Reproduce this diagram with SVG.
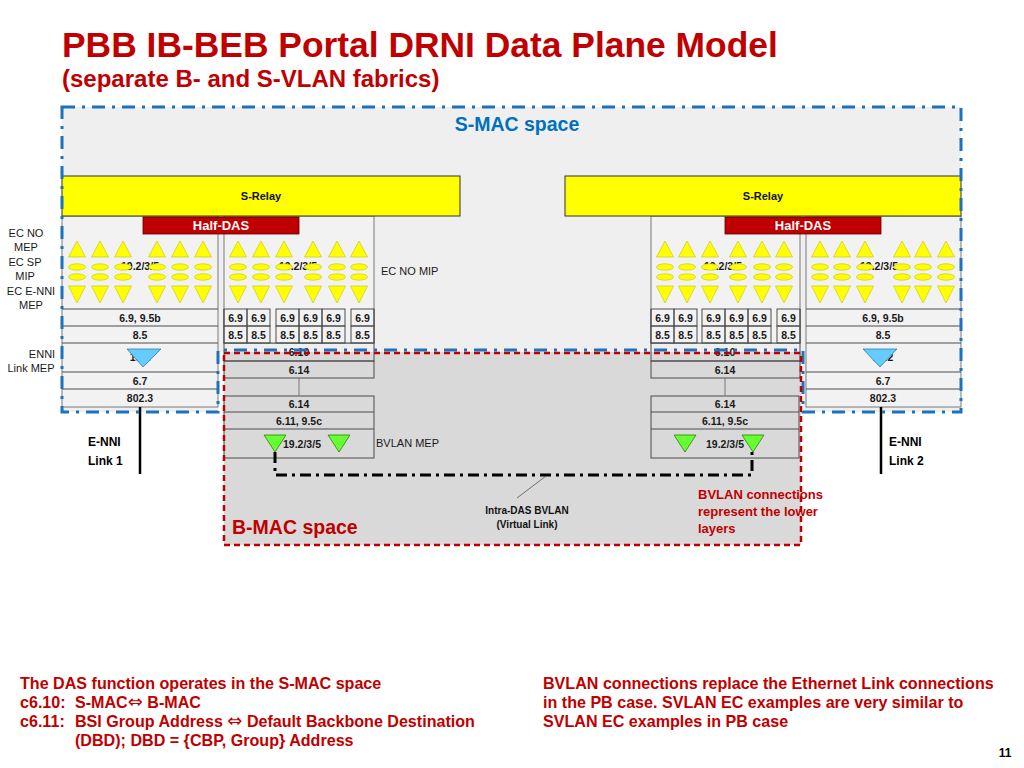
<svg xmlns="http://www.w3.org/2000/svg" width="1024" height="768" viewBox="0 0 1024 768">
<defs>
<style>
text{font-family:"Liberation Sans",Arial,Helvetica,sans-serif}
.c{fill:none;stroke:#4d4d4d;stroke-width:1}
.bx{fill:#f2f2f2;stroke:#7a7a7a;stroke-width:1}
.ln{stroke:#4d4d4d;stroke-width:1}
.t{font-size:10.5px;font-weight:bold;text-anchor:middle;fill:#1a1a1a}
.lbl{font-size:11px;text-anchor:middle;fill:#1a1a1a}
.ytri{fill:#ffff00;stroke:#c2c200;stroke-width:0.6}
.gtri{fill:#66ff33;stroke:#2e7d00;stroke-width:0.8}
.btri{fill:#66ccff;stroke:#2f7fb5;stroke-width:0.8}
.relay{fill:#ffff00;stroke:#333;stroke-width:1}
.das{fill:#c00000;stroke:#5a0000;stroke-width:0.8}
.dast{font-size:13px;font-weight:bold;text-anchor:middle;fill:#fff}
.rt{fill:#c00000;font-weight:bold}
.ar{font-family:"DejaVu Sans",sans-serif;font-weight:normal;font-size:18px}
</style>
<g id="ec">
<polygon class="ytri" points="-8.5,257 0,241 8.5,257"/>
<ellipse class="ytri" cx="0" cy="267" rx="8.5" ry="3.2"/>
<ellipse class="ytri" cx="0" cy="277" rx="8.5" ry="3.2"/>
<polygon class="ytri" points="-8.5,286 8.5,286 0,303"/>
</g>
<polygon id="gt" class="gtri" points="-11,435 11,435 0,452"/>
<g id="c2">
<rect class="c" x="0" y="309" width="23" height="17"/>
<rect class="c" x="0" y="326" width="23" height="17"/>
<text class="t" x="11.5" y="321.5">6.9</text>
<text class="t" x="11.5" y="338.5">8.5</text>
</g>
</defs>

<rect width="1024" height="768" fill="#fff"/>

<g id="title">
<text x="62" y="57" font-size="35.4" font-weight="bold" fill="#c00000">PBB IB-BEB Portal DRNI Data Plane Model</text>
<text x="62" y="87" font-size="24" font-weight="bold" fill="#c00000">(separate B- and S-VLAN fabrics)</text>
</g>

<g id="regions-fill">
<polygon points="62,107 961,107 961,412 803,412 803,352 218,352 218,412 62,412" fill="#efefef"/>
<rect x="224" y="352" width="577" height="193" fill="#d9d9d9"/>
</g>

<g id="portal-left">
<rect class="bx" x="62" y="216" width="156" height="191"/>
<line class="ln" x1="62" y1="309" x2="218" y2="309"/>
<line class="ln" x1="62" y1="326" x2="218" y2="326"/>
<line class="ln" x1="62" y1="343" x2="218" y2="343"/>
<line class="ln" x1="62" y1="372" x2="218" y2="372"/>
<line class="ln" x1="62" y1="389" x2="218" y2="389"/>
<text class="t" x="140" y="270" fill="#333">19.2/3/5</text>
<use href="#ec" x="77"/><use href="#ec" x="100"/><use href="#ec" x="123"/>
<use href="#ec" x="157"/><use href="#ec" x="180"/><use href="#ec" x="203"/>
<text class="t" x="140" y="321.5">6.9, 9.5b</text>
<text class="t" x="140" y="338.5">8.5</text>
<text class="t" x="140" y="361">19.2</text>
<polygon class="btri" points="127,349 161,349 143,367"/>
<text class="t" x="140" y="384.5">6.7</text>
<text class="t" x="140" y="402">802.3</text>

<rect class="bx" x="224" y="216" width="150" height="127"/>
<text class="t" x="298" y="270" fill="#333">19.2/3/5</text>
<use href="#ec" x="238"/><use href="#ec" x="261"/><use href="#ec" x="284"/>
<use href="#ec" x="313"/><use href="#ec" x="337"/><use href="#ec" x="359"/>
<rect x="224" y="309" width="150" height="34" fill="#f2f2f2"/>
<use href="#c2" x="224"/><use href="#c2" x="247"/>
<use href="#c2" x="276"/><use href="#c2" x="299"/><use href="#c2" x="322"/>
<use href="#c2" x="351"/>
<line class="ln" x1="224" y1="309" x2="224" y2="343"/>
<line class="ln" x1="374" y1="309" x2="374" y2="343"/>
<rect class="c" x="224" y="343" width="150" height="18"/>
<text class="t" x="299" y="356">6.10</text>
<rect class="c" x="224" y="361" width="150" height="17"/>
<text class="t" x="299" y="373.5">6.14</text>
<rect class="c" x="224" y="396" width="150" height="62"/>
<line class="ln" x1="224" y1="412" x2="374" y2="412"/>
<line class="ln" x1="224" y1="429" x2="374" y2="429"/>
<text class="t" x="299" y="408">6.14</text>
<text class="t" x="299" y="424.5">6.11, 9.5c</text>
<text class="t" x="302" y="448">19.2/3/5</text>
<use href="#gt" x="275"/><use href="#gt" x="339"/>

<rect class="relay" x="62" y="176" width="398" height="40"/>
<text x="261" y="200" font-size="11" font-weight="bold" text-anchor="middle" fill="#111">S-Relay</text>
<rect class="das" x="143" y="217" width="156" height="17"/>
<text class="dast" x="221" y="230">Half-DAS</text>
</g>

<g id="portal-right">
<rect class="bx" x="806" y="216" width="155" height="191"/>
<line class="ln" x1="806" y1="309" x2="961" y2="309"/>
<line class="ln" x1="806" y1="326" x2="961" y2="326"/>
<line class="ln" x1="806" y1="343" x2="961" y2="343"/>
<line class="ln" x1="806" y1="372" x2="961" y2="372"/>
<line class="ln" x1="806" y1="389" x2="961" y2="389"/>
<text class="t" x="879" y="270" fill="#333">19.2/3/5</text>
<use href="#ec" x="820"/><use href="#ec" x="842"/><use href="#ec" x="865"/>
<use href="#ec" x="902"/><use href="#ec" x="923"/><use href="#ec" x="946"/>
<text class="t" x="883" y="321.5">6.9, 9.5b</text>
<text class="t" x="883" y="338.5">8.5</text>
<text class="t" x="883" y="361">19.2</text>
<polygon class="btri" points="863,349 897,349 880,367"/>
<text class="t" x="883" y="384.5">6.7</text>
<text class="t" x="883" y="402">802.3</text>

<rect class="bx" x="651" y="216" width="149" height="127"/>
<text class="t" x="723" y="270" fill="#333">19.2/3/5</text>
<use href="#ec" x="665"/><use href="#ec" x="687"/><use href="#ec" x="710"/>
<use href="#ec" x="738"/><use href="#ec" x="762"/><use href="#ec" x="784"/>
<rect x="651" y="309" width="149" height="34" fill="#f2f2f2"/>
<use href="#c2" x="651"/><use href="#c2" x="674"/>
<use href="#c2" x="702"/><use href="#c2" x="725"/><use href="#c2" x="748"/>
<use href="#c2" x="777"/>
<line class="ln" x1="651" y1="309" x2="651" y2="343"/>
<line class="ln" x1="800" y1="309" x2="800" y2="343"/>
<rect class="c" x="651" y="343" width="149" height="18"/>
<text class="t" x="725" y="356">6.10</text>
<rect class="c" x="651" y="361" width="149" height="17"/>
<text class="t" x="725" y="373.5">6.14</text>
<rect class="c" x="651" y="396" width="148" height="62"/>
<line class="ln" x1="651" y1="412" x2="799" y2="412"/>
<line class="ln" x1="651" y1="429" x2="799" y2="429"/>
<text class="t" x="725" y="408">6.14</text>
<text class="t" x="725" y="424.5">6.11, 9.5c</text>
<text class="t" x="725" y="448">19.2/3/5</text>
<use href="#gt" x="685"/><use href="#gt" x="753"/>

<rect class="relay" x="565" y="176" width="396" height="40"/>
<text x="763" y="200" font-size="11" font-weight="bold" text-anchor="middle" fill="#111">S-Relay</text>
<rect class="das" x="725" y="217" width="156" height="17"/>
<text class="dast" x="803" y="230">Half-DAS</text>
</g>

<g id="connectors">
<line x1="299" y1="378" x2="299" y2="396" stroke="#777" stroke-width="1"/>
<line x1="725" y1="378" x2="725" y2="396" stroke="#777" stroke-width="1"/>
<line x1="140" y1="407" x2="140" y2="474" stroke="#000" stroke-width="2.5"/>
<line x1="881" y1="407" x2="881" y2="474" stroke="#000" stroke-width="2.5"/>
<path d="M275,452 V475 H752 V452" fill="none" stroke="#000" stroke-width="3" stroke-dasharray="11 5 3 5"/>
<line x1="546" y1="476" x2="517" y2="498" stroke="#555" stroke-width="0.8"/>
</g>

<g id="labels">
<text class="lbl" x="26" y="237">EC NO</text>
<text class="lbl" x="26" y="251">MEP</text>
<text class="lbl" x="25" y="266">EC SP</text>
<text class="lbl" x="25" y="280">MIP</text>
<text class="lbl" x="31" y="295">EC E-NNI</text>
<text class="lbl" x="31" y="309">MEP</text>
<text class="lbl" x="42" y="358">ENNI</text>
<text class="lbl" x="31" y="372">Link MEP</text>
<text x="381" y="275" font-size="11" fill="#1a1a1a">EC NO MIP</text>
<text x="376" y="447" font-size="11" fill="#1a1a1a">BVLAN MEP</text>
<text x="88" y="446" font-size="12" font-weight="bold" fill="#000">E-NNI</text>
<text x="88" y="465" font-size="12" font-weight="bold" fill="#000">Link 1</text>
<text x="889" y="446" font-size="12" font-weight="bold" fill="#000">E-NNI</text>
<text x="889" y="465" font-size="12" font-weight="bold" fill="#000">Link 2</text>
<text x="527" y="514" font-size="10" font-weight="bold" text-anchor="middle" fill="#111">Intra-DAS BVLAN</text>
<text x="527" y="528" font-size="10" font-weight="bold" text-anchor="middle" fill="#111">(Virtual Link)</text>
<text class="rt" x="698" y="499" font-size="13">BVLAN connections</text>
<text class="rt" x="698" y="516" font-size="13">represent the lower</text>
<text class="rt" x="698" y="533" font-size="13">layers</text>
<text x="517" y="131" font-size="19.5" font-weight="bold" text-anchor="middle" fill="#0070c0">S-MAC space</text>
<text class="rt" x="232" y="534" font-size="19.5">B-MAC space</text>
</g>

<g id="region-borders">
<polygon points="62,107 961,107 961,412 803,412 803,350 218,350 218,412 62,412" fill="none" stroke="#1d72bd" stroke-width="3" stroke-dasharray="13 7 3 7"/>
<rect x="224" y="353" width="577" height="192" fill="none" stroke="#c00000" stroke-width="2.5" stroke-dasharray="6 4"/>
</g>

<g id="notes" font-size="16.1">
<text class="rt" x="20" y="689">The DAS function operates in the S-MAC space</text>
<text class="rt" x="20" y="708">c6.10:</text>
<text class="rt" x="75" y="708">S-MAC<tspan class="ar">⇔</tspan> B-MAC</text>
<text class="rt" x="20" y="727">c6.11:</text>
<text class="rt" x="75" y="727">BSI Group Address <tspan class="ar">⇔</tspan> Default Backbone Destination</text>
<text class="rt" x="75" y="746">(DBD); DBD = {CBP, Group} Address</text>
<text class="rt" x="543" y="689">BVLAN connections replace the Ethernet Link connections</text>
<text class="rt" x="543" y="708">in the PB case. SVLAN EC examples are very similar to</text>
<text class="rt" x="543" y="727">SVLAN EC examples in PB case</text>
<text x="1005" y="757" font-size="12" font-weight="bold" text-anchor="middle" fill="#000">11</text>
</g>
</svg>
